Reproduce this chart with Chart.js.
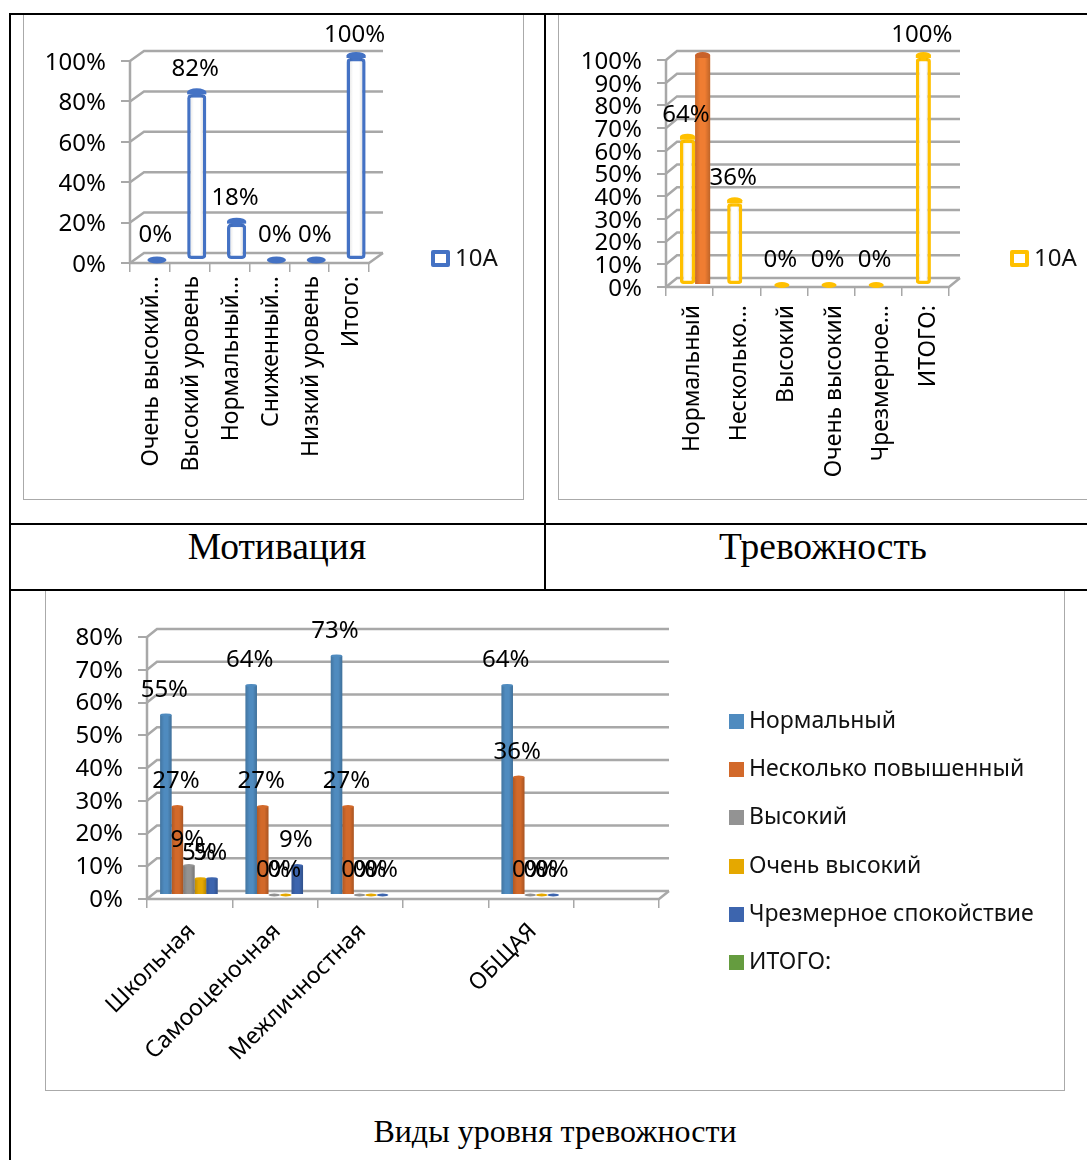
<!DOCTYPE html>
<html><head><meta charset="utf-8">
<script src="https://cdn.jsdelivr.net/npm/chart.js@4"></script>
<style>
html,body{margin:0;padding:0;background:#fff;overflow:hidden}
body{width:1087px;height:1160px;position:relative}
.ln{position:absolute;background:#000}
.fr{position:absolute;border:1.5px solid #aaa;box-sizing:border-box}
canvas{position:absolute;filter:blur(.45px)}
.cap{position:absolute;font-family:"Liberation Serif",serif;color:#000;white-space:nowrap;transform:translateX(-50%)}
.lg{position:absolute;font-family:"Noto Sans",sans-serif;color:#111;white-space:nowrap;line-height:24px}
.lg i{display:inline-block;vertical-align:-1px;margin-right:5px;box-sizing:border-box}
</style></head><body>
<div class="fr" style="left:23px;top:13px;width:501px;height:487px"></div>
<div class="fr" style="left:558px;top:13px;width:540px;height:487px"></div>
<div class="fr" style="left:45px;top:590px;width:1020px;height:501px"></div>
<div class="ln" style="left:9px;top:13px;width:1078px;height:2px"></div>
<div class="ln" style="left:9px;top:13px;width:2px;height:1147px"></div>
<div class="ln" style="left:544px;top:13px;width:2px;height:576px"></div>
<div class="ln" style="left:9px;top:523px;width:1078px;height:2px"></div>
<div class="ln" style="left:9px;top:589px;width:1078px;height:2px"></div>
<canvas id="c1"></canvas><canvas id="c2"></canvas><canvas id="c3"></canvas>
<div class="cap" style="left:277px;top:525px;font-size:37.5px">Мотивация</div>
<div class="cap" style="left:823px;top:525px;font-size:37.5px">Тревожность</div>
<div class="cap" style="left:555px;top:1113px;font-size:32px">Виды уровня тревожности</div>
<div id="legends"></div>
<script>
const motivationLabels=["Очень высокий…","Высокий уровень","Нормальный…","Сниженный…","Низкий уровень","Итого:"];
const motivationValues=[0,82,18,0,0,100];
const anxietyLabels=["Нормальный","Несколько…","Высокий","Очень высокий","Чрезмерное…","ИТОГО:"];
const anxietyValues=[64,36,0,0,0,100];
const anxietyExtra=[100,null,null,null,null,null];
const typeLabels=["Школьная","Самооценочная","Межличностная","","ОБЩАЯ",""];
const typeNormal=[55,64,73,null,64,null];
const typeRaised=[27,27,27,null,36,null];
const typeHigh=[9,0,0,null,0,null];
const typeVeryHigh=[5,0,0,null,0,null];
const typeCalm=[5,9,0,null,0,null];
const typeTotal=[null,null,null,null,null,null];
const typeSeries=["Нормальный","Несколько повышенный","Высокий","Очень высокий","Чрезмерное спокойствие","ИТОГО:"];
const typeColors=["#4f8bbf","#d2692a","#939393","#e5a800","#3d65ae","#659c3f"];
const FONT='"Noto Sans",sans-serif';

const depth3d={id:'depth3d',
 beforeDatasetsDraw(ch,a,o){
  const {ctx,scales:{x,y}}=ch,dx=o.dx,dy=o.dy;
  ctx.save();ctx.strokeStyle='#a8a8a8';ctx.lineWidth=o.lw;
  const L=x.left,R=x.right;
  y.ticks.forEach((t,i)=>{const p=y.getPixelForTick(i);
    ctx.beginPath();ctx.moveTo(L,p);ctx.lineTo(L+dx,p-dy);ctx.lineTo(R+dx,p-dy);ctx.stroke();});
  const p0=y.getPixelForValue(0);
  ctx.beginPath();ctx.moveTo(L,y.top);ctx.lineTo(L,p0);ctx.lineTo(R,p0);ctx.lineTo(R+dx,p0-dy);ctx.stroke();
  ctx.restore();
  ctx.save();ctx.translate(dx/2,-o.barDy);
 },
 afterDatasetsDraw(ch,a,o){
  const {ctx}=ch;
  ch.data.datasets.forEach((ds,i)=>{const m=ch.getDatasetMeta(i);
   m.data.forEach((el,j)=>{
    if(ds.data[j]==null)return;
    const w=el.width,h=el.base-el.y,ix=ds.borderWidth?ds.borderWidth:0,lift=h>0?(o.lift||0):0;
    if(h>0){
      const g=ctx.createLinearGradient(el.x-w/2,0,el.x+w/2,0);
      g.addColorStop(0,'rgba(0,0,0,.16)');g.addColorStop(.35,'rgba(0,0,0,0)');g.addColorStop(.65,'rgba(0,0,0,0)');g.addColorStop(1,'rgba(0,0,0,.2)');
      ctx.fillStyle=g;ctx.fillRect(el.x-w/2+ix,el.y,w-2*ix,h-ix);
    }
    ctx.fillStyle=ds.capColor||ds.backgroundColor;
    if(lift)ctx.fillRect(el.x-w/2,el.y-lift,w,lift);
    ctx.beginPath();ctx.ellipse(el.x,el.y-lift,w/2,o.capH,0,0,Math.PI*2);ctx.fill();
   });
  });
  ctx.restore();
  ctx.save();ctx.fillStyle='#000';ctx.textAlign='center';ctx.textBaseline='middle';ctx.font='24px '+FONT;
  ch.data.datasets.forEach((ds,i)=>{ if(ds.noLabel)return; const m=ch.getDatasetMeta(i);
   m.data.forEach((el,j)=>{const v=ds.data[j]; if(v==null)return;
    ctx.fillText(v+'%',el.x+o.dx/2-1.5,Math.max(el.y-o.barDy-o.lab,o.minY||0));});
  });
  ctx.restore();
 }};
Chart.register(depth3d);

function make(id,box,area,labels,datasets,yMax,yStep,d3,catPct,xRot,xPad,yOff,xOff){
 const c=document.getElementById(id);
 c.style.left=box[0]+'px';c.style.top=box[1]+'px';c.width=box[2];c.height=box[3];c.style.width=box[2]+'px';c.style.height=box[3]+'px';
 return new Chart(c,{type:'bar',data:{labels,datasets},options:{
  responsive:false,animation:false,devicePixelRatio:1,
  layout:{padding:{left:0,bottom:0,top:area.t-box[1],right:box[0]+box[2]-area.r}},
  datasets:{bar:{barPercentage:1,categoryPercentage:catPct,clip:false}},
  plugins:{legend:{display:false},tooltip:{enabled:false},depth3d:d3},
  scales:{
   x:{grid:{drawOnChartArea:false,color:'#a8a8a8',lineWidth:1.5,tickLength:9,offset:true},border:{display:false},
      ticks:{autoSkip:false,minRotation:xRot,maxRotation:xRot,color:'#000',font:{family:FONT,size:23},padding:xPad,labelOffset:xOff},
      afterFit(s){s.height=box[1]+box[3]-area.b;}},
   y:{min:0,max:yMax,grid:{drawOnChartArea:false,color:'#a8a8a8',lineWidth:2,tickLength:9},border:{display:false},
      ticks:{autoSkip:false,stepSize:yStep,color:'#000',font:{family:FONT,size:24},padding:15,labelOffset:yOff,callback:v=>v+'%'},
      afterFit(s){s.width=area.l-box[0];}}
  }}});
}
make('c1',[23,13,501,487],{l:130,r:369,t:61,b:263},motivationLabels,
 [{label:'10A',data:motivationValues,backgroundColor:'#fff',borderColor:'#4472c4',borderWidth:3.5,borderRadius:4,borderSkipped:false,capColor:'#4472c4'}],
 100,20,{dx:14,dy:10,lw:2.5,capH:3.5,lab:25,barDy:3,minY:22,lift:2.5},0.48,90,4,2,2);
make('c2',[558,13,529,487],{l:666,r:949,t:60,b:287},anxietyLabels,
 [{label:'10A',data:anxietyValues,backgroundColor:'#fff',borderColor:'#ffc000',borderWidth:3.5,borderRadius:3,borderSkipped:false,capColor:'#ffc000'},
  {label:'',data:anxietyExtra,backgroundColor:'#ef7d32',borderColor:'#c9622a',borderWidth:0,capColor:'#c9622a',noLabel:true}],
 100,10,{dx:11,dy:9,lw:2.5,capH:3,lab:25,barDy:2,minY:22,lift:3},0.64,90,9,2,3);
const typeData=[typeNormal,typeRaised,typeHigh,typeVeryHigh,typeCalm,typeTotal];
make('c3',[46,591,1018,499],{l:147,r:659,t:637,b:899},typeLabels,
 typeData.map((d,i)=>({label:typeSeries[i],data:d,backgroundColor:typeColors[i]})),
 80,10,{dx:10,dy:8,lw:2.5,capH:1.5,lab:25,barDy:4},0.81,45,10,1,2);

function legend(items,x,y,step,size){
 const h=document.getElementById('legends');
 items.forEach((it,i)=>{const e=document.createElement('div');e.className='lg';e.style.left=x+'px';e.style.top=(y+i*step)+'px';e.style.fontSize=size+'px';
  const m=document.createElement('i');m.style.cssText=it.css;e.appendChild(m);e.appendChild(document.createTextNode(it.t));h.appendChild(e);});
}
legend([{t:'10A',css:'width:19px;height:17px;border:4px solid #4472c4;background:#fff;border-radius:2px'}],431,245,0,24);
legend([{t:'10A',css:'width:19px;height:17px;border:4px solid #ffc000;background:#fff;border-radius:2px'}],1010,245,0,24);
legend(typeSeries.map((t,i)=>({t,css:'width:15px;height:15px;background:'+typeColors[i]})),729,707,48.2,23);
</script></body></html>
